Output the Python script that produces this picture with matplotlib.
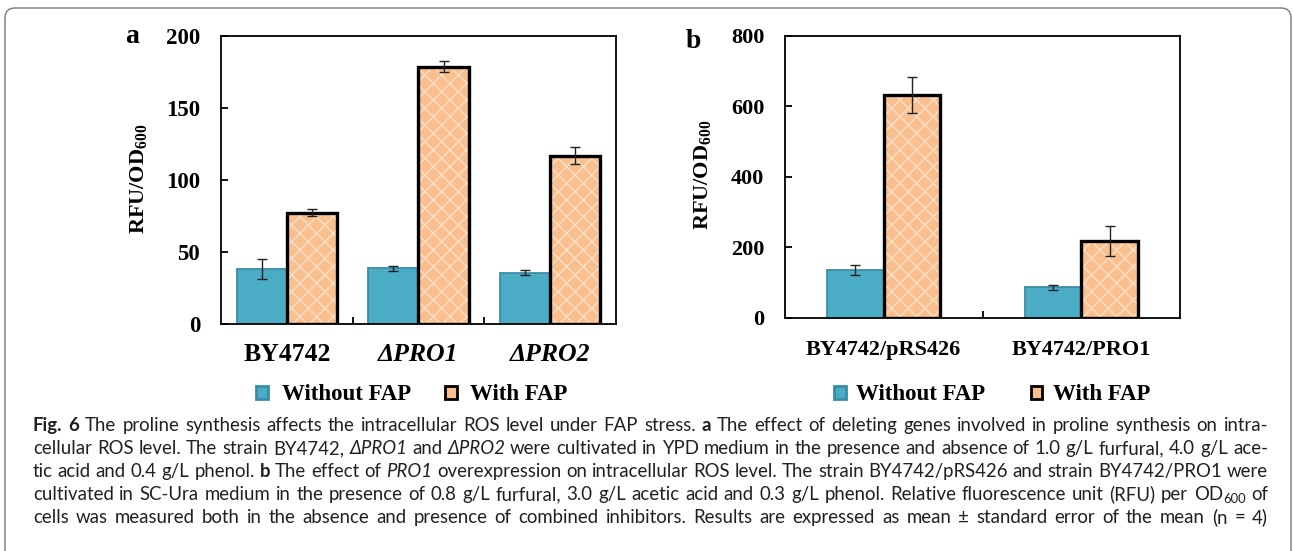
import re
import matplotlib
matplotlib.use('Agg')
import matplotlib.pyplot as plt
import numpy as np
from matplotlib.patches import Patch, FancyBboxPatch
from matplotlib.transforms import IdentityTransform

plt.rcParams['font.family'] = ['Liberation Serif', 'DejaVu Serif']
plt.rcParams['mathtext.fontset'] = 'custom'
plt.rcParams['mathtext.rm'] = 'Liberation Serif'
plt.rcParams['mathtext.bf'] = 'Liberation Serif:bold'
plt.rcParams['mathtext.it'] = 'Liberation Serif:italic'

# panel a data
strains_a = ['BY4742', 'ΔPRO1', 'ΔPRO2']
without_a = [38.2, 38.7, 35.6]
without_a_err = [6.8, 1.6, 1.7]
with_a = [77.4, 178.8, 116.9]
with_a_err = [2.7, 3.5, 5.8]
yticks_a = [0, 50, 100, 150, 200]

# panel b data
strains_b = ['BY4742/pRS426', 'BY4742/PRO1']
without_b = [134.5, 86.0]
without_b_err = [14, 7.5]
with_b = [632, 217.5]
with_b_err = [50, 42]
yticks_b = [0, 200, 400, 600, 800]

series_names = ['Without FAP', 'With FAP']

caption = [
    "<b>Fig. 6</b> The proline synthesis affects the intracellular ROS level under FAP stress. <b>a</b> The effect of deleting genes involved in proline synthesis on intra-",
    "cellular ROS level. The strain BY4742, <i>ΔPRO1</i> and <i>ΔPRO2</i> were cultivated in YPD medium in the presence and absence of 1.0 g/L furfural, 4.0 g/L ace-",
    "tic acid and 0.4 g/L phenol. <b>b</b> The effect of <i>PRO1</i> overexpression on intracellular ROS level. The strain BY4742/pRS426 and strain BY4742/PRO1 were",
    "cultivated in SC-Ura medium in the presence of 0.8 g/L furfural, 3.0 g/L acetic acid and 0.3 g/L phenol. Relative fluorescence unit (RFU) per OD<s>600</s> of",
    "cells was measured both in the absence and presence of combined inhibitors. Results are expressed as mean ± standard error of the mean (n = 4)",
]

teal = '#4BACC6'
teal_edge = '#3A8DA6'
orange = '#F9BF8F'
hatch_col = '#FCE0C6'

W, H = 1293, 551
fig = plt.figure(figsize=(W / 100, H / 100), dpi=100)


def panel(rect, names, v0, e0, v1, e1, width, yticks, lab_size, tick_size, xpad):
    ax = fig.add_axes(rect)
    x = np.arange(len(names))
    ax.bar(x - width / 2, v0, width, color=teal, edgecolor=teal_edge, linewidth=1.3, zorder=2)
    ax.bar(x + width / 2, v1, width, color=orange, edgecolor=hatch_col, linewidth=0, hatch='xx', zorder=2)
    ax.bar(x + width / 2, v1, width, facecolor='none', edgecolor='black', linewidth=2.4, zorder=3)
    ax.errorbar(x - width / 2, v0, yerr=e0, fmt='none', ecolor='#222222', elinewidth=1, capsize=3.5, capthick=1, zorder=4)
    ax.errorbar(x + width / 2, v1, yerr=e1, fmt='none', ecolor='#222222', elinewidth=1, capsize=3.5, capthick=1, zorder=4)
    ax.set_xlim(-0.5, len(names) - 0.5)
    ax.set_ylim(yticks[0], yticks[-1])
    ax.set_yticks(yticks)
    ax.set_yticklabels([str(v) for v in yticks], fontsize=tick_size, fontweight='bold')
    ax.set_xticks(x)
    ax.set_xticklabels(names, fontsize=lab_size, fontweight='bold')
    ax.set_xticks(x[:-1] + 0.5, minor=True)
    ax.tick_params(axis='x', which='major', length=0, pad=xpad)
    ax.tick_params(axis='x', which='minor', direction='in', length=5, width=1.3)
    ax.tick_params(axis='y', direction='in', length=5, width=1.3, pad=15)
    for s in ax.spines.values():
        s.set_linewidth(1.3)
    ax.set_ylabel(r'$\mathbf{RFU/OD_{600}}$', fontsize=16)
    ax.yaxis.label.set_va('center')
    ax.yaxis.set_label_coords(-0.21, 0.505)
    return ax


ax_a = panel([221 / W, 1 - 324 / H, 395 / W, 288 / H], strains_a, without_a, without_a_err,
             with_a, with_a_err, 0.38, yticks_a, 18.5, 16.5, 14)
for lab in ax_a.get_xticklabels()[1:]:
    lab.set_style('italic')
ax_b = panel([785 / W, 1 - 317.7 / H, 395 / W, 282 / H], strains_b, without_b, without_b_err,
             with_b, with_b_err, 0.287, yticks_b, 16, 16, 16)

fig.text(125 / W, 1 - 43 / H, 'a', fontsize=20, fontweight='bold', va='baseline')
fig.text(686 / W, 1 - 48 / H, 'b', fontsize=20, fontweight='bold', va='baseline')

handles = [Patch(facecolor=teal, edgecolor=teal_edge, linewidth=2),
           Patch(facecolor=orange, edgecolor='black', linewidth=2)]
for ax, cx, cs, tp in [(ax_a, 412, 1.5, 0.6), (ax_b, 992, 2.0, 0.45)]:
    ax.legend(handles, series_names, loc='center', bbox_to_anchor=(cx / W, 1 - 395 / H),
              bbox_transform=fig.transFigure, ncol=2, frameon=False,
              prop={'weight': 'bold', 'size': 16.5}, handlelength=0.5, handleheight=0.5,
              handletextpad=tp, columnspacing=cs)

# rounded caption frame (open at the bottom)
fig.add_artist(FancyBboxPatch((5, -40), 1286, 583, boxstyle='round,pad=0,rounding_size=10',
                              transform=IdentityTransform(), fill=False, edgecolor='#777777', linewidth=1))

# justified caption
cap_font = ['Lato', 'DejaVu Sans']
x_left, x_right = 33, 1268
renderer = fig.canvas.get_renderer()


def parse(line):
    parts = []
    for seg in re.split(r'(<[bis]>.*?</[bis]>)', line):
        if not seg:
            continue
        m = re.match(r'<([bis])>(.*)</[bis]>', seg)
        parts.append((m.group(1), m.group(2)) if m else ('n', seg))
    words = [[]]
    for style, txt in parts:
        for k, c in enumerate(txt.split(' ')):
            if k > 0:
                words.append([])
            if c:
                words[-1].append((style, c))
    return [w for w in words if w]


def make_words(words, size):
    objs, total = [], 0
    for w in words:
        wo = []
        for style, c in w:
            kw = dict(family=cap_font, color='#231F20', fontsize=size)
            dy = 0
            if style == 'b':
                kw['fontweight'] = 'bold'
            elif style == 'i':
                kw['fontstyle'] = 'italic'
            elif style == 's':
                kw['fontsize'] = size * 0.7
                dy = -3
            t = fig.text(0, 0, c, transform=IdentityTransform(), va='baseline', ha='left', **kw)
            wd = t.get_window_extent(renderer).width
            wo.append((t, wd, dy))
            total += wd
        objs.append(wo)
    return objs, total


parsed = [parse(l) for l in caption]
# find font size that lets the lines fit with normal word spacing
probe = 10.0
need = 0
for words in parsed:
    objs, total = make_words(words, probe)
    for wo in objs:
        for t, _, _ in wo:
            t.remove()
    natural = total + (len(words) - 1) * 0.25 * probe * 100 / 72
    need = max(need, natural)
cap_size = probe * (x_right - x_left) / need

for i, words in enumerate(parsed):
    base_y = H - (431 + 23 * i)
    objs, total = make_words(words, cap_size)
    gap = (x_right - x_left - total) / max(len(words) - 1, 1)
    xx = x_left
    for wo in objs:
        for t, wd, dy in wo:
            t.set_position((xx, base_y + dy))
            xx += wd
        xx += gap

fig.savefig('out.png', dpi=100)
